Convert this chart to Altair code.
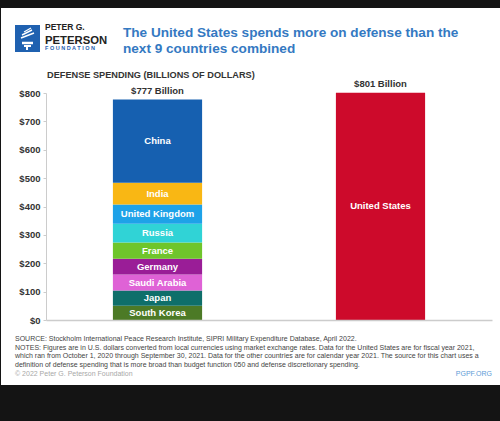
import altair as alt
import pandas as pd

# ---- data ----
groups = ["Next 9", "Next 9", "Next 9", "Next 9", "Next 9", "Next 9", "Next 9", "Next 9", "Next 9", "United States"]
countries = ["South Korea", "Japan", "Saudi Arabia", "Germany", "France", "Russia",
             "United Kingdom", "India", "China", "United States"]
values = [50, 54, 56, 56, 57, 66, 68, 77, 293, 801]
colors = ["#4c7a26", "#0f6f6a", "#df62d6", "#9a1d97", "#6fc52b", "#30d3d6",
          "#1ea2e8", "#f9b714", "#1660b0", "#cd0a2b"]
total_groups = ["Next 9", "United States"]
total_values = [777, 801]
total_labels = ["$777 Billion", "$801 Billion"]
y_ticks = [0, 100, 200, 300, 400, 500, 600, 700, 800]

title_lines = ["The United States spends more on defense than the", "next 9 countries combined"]
subtitle = "DEFENSE SPENDING (BILLIONS OF DOLLARS)"
footer_lines = [
    "SOURCE: Stockholm International Peace Research Institute, SIPRI Military Expenditure Database, April 2022.",
    "NOTES: Figures are in U.S. dollars converted from local currencies using market exchange rates. Data for the United States are for fiscal year 2021,",
    "which ran from October 1, 2020 through September 30, 2021. Data for the other countries are for calendar year 2021. The source for this chart uses a",
    "definition of defense spending that is more broad than budget function 050 and defense discretionary spending.",
]
copyright_text = "\u00a9 2022 Peter G. Peterson Foundation"
site_text = "PGPF.ORG"

# ---- tables ----
df = pd.DataFrame({"group": groups, "country": countries, "value": values})
starts = []
acc = {}
for g, v in zip(groups, values):
    s = acc.get(g, 0)
    starts.append(s)
    acc[g] = s + v
df["start"] = starts
df["end"] = df["start"] + df["value"]
df["mid"] = (df["start"] + df["end"]) / 2

tot = pd.DataFrame({"group": total_groups, "total": total_values, "label": total_labels})
one = pd.DataFrame({"k": [0]})

FONT = "Liberation Sans"

xscale = alt.Scale(domain=total_groups, paddingInner=0.6, paddingOuter=0.3)
yscale = alt.Scale(domain=[0, 800], nice=False)
xaxis = alt.Axis(labels=False, ticks=False, title=None, domainColor="#cccccc",
                 domainWidth=1.5, zindex=1)
yaxis = alt.Axis(values=y_ticks, title=None, grid=False, labelExpr="'$' + datum.value",
                 labelFont=FONT, labelFontWeight="bold", labelFontSize=9.5, labelColor="#333333",
                 domainColor="#cccccc", tickColor="#cccccc", tickSize=3, labelPadding=3,
                 labelOverlap=False, zindex=1)

panel = alt.Chart(one).mark_rect(color="white").encode(
    x=alt.value(-45), x2=alt.value(454), y=alt.value(-85), y2=alt.value(292)
)

bars = alt.Chart(df).mark_bar().encode(
    x=alt.X("group:N", scale=xscale, axis=xaxis),
    y=alt.Y("start:Q", scale=yscale, axis=yaxis),
    y2="end:Q",
    color=alt.Color("country:N", scale=alt.Scale(domain=countries, range=colors), legend=None),
)

seg_labels = alt.Chart(df).mark_text(font=FONT, fontWeight="bold", fontSize=9.5, color="white").encode(
    x=alt.X("group:N", scale=xscale, axis=xaxis),
    y=alt.Y("mid:Q", scale=yscale, axis=yaxis),
    text="country:N",
)

tot_labels = alt.Chart(tot).mark_text(font=FONT, fontWeight="bold", fontSize=9.5, color="#333333",
                                      baseline="bottom", dy=-4).encode(
    x=alt.X("group:N", scale=xscale, axis=xaxis),
    y=alt.Y("total:Q", scale=yscale, axis=yaxis),
    text="label:N",
)

def txt(text, x, y, size, color, weight="normal", align="left", style="normal"):
    return alt.Chart(one).mark_text(font=FONT, fontSize=size, color=color, fontWeight=weight,
                                    align=align, baseline="alphabetic", fontStyle=style).encode(
        x=alt.value(x), y=alt.value(y), text=alt.value(text)
    )

title_color = "#3479c2"
layers = [panel, bars, seg_labels, tot_labels]
layers.append(txt(title_lines[0], 77, -56, 13.6, title_color, "bold"))
layers.append(txt(title_lines[1], 77, -40, 13.6, title_color, "bold"))

# logo
logo_box = alt.Chart(one).mark_rect(color="#1f61b0").encode(
    x=alt.value(-31), x2=alt.value(-6), y=alt.value(-68), y2=alt.value(-41)
)
layers.append(logo_box)
for (x1, y1, x2, y2, w) in [(-24, -50, -13, -50, 2.5), (-22, -47, -15, -47, 2), (-19, -47, -19, -43, 2),
                            (-25, -55, -12, -60, 1.5), (-24, -58, -14, -63, 1.5), (-22, -61, -15, -65, 1.2)]:
    layers.append(alt.Chart(one).mark_rule(color="white", strokeWidth=w).encode(
        x=alt.value(x1), x2=alt.value(x2), y=alt.value(y1), y2=alt.value(y2)))
layers.append(txt("PETER G.", -1, -63, 8.5, "#222222", "bold"))
layers.append(txt("PETERSON", -1, -49, 11.3, "#222222", "bold"))
layers.append(txt("F O U N D A T I O N", -1, -43, 5.5, "#1f61b0", "bold"))

layers.append(txt(subtitle, 1, -15, 9.2, "#333333", "bold"))

# footer
fy = [248, 256.7, 265.4, 274.1]
for line, y in zip(footer_lines, fy):
    layers.append(txt(line, -31, y, 7, "#444444"))
layers.append(txt(copyright_text, -31, 283, 7, "#a8a8a8"))
layers.append(txt(site_text, 446, 283, 7, "#5d9bd6", align="right"))

chart = alt.layer(*layers).properties(
    width=446, height=227,
    padding={"left": 46, "top": 93, "right": 8, "bottom": 101},
    autosize=alt.AutoSizeParams(type="none"),
    background="#141414",
).configure_view(stroke=None)

chart.save("out.html", embed_options={"renderer": "svg", "actions": False})
